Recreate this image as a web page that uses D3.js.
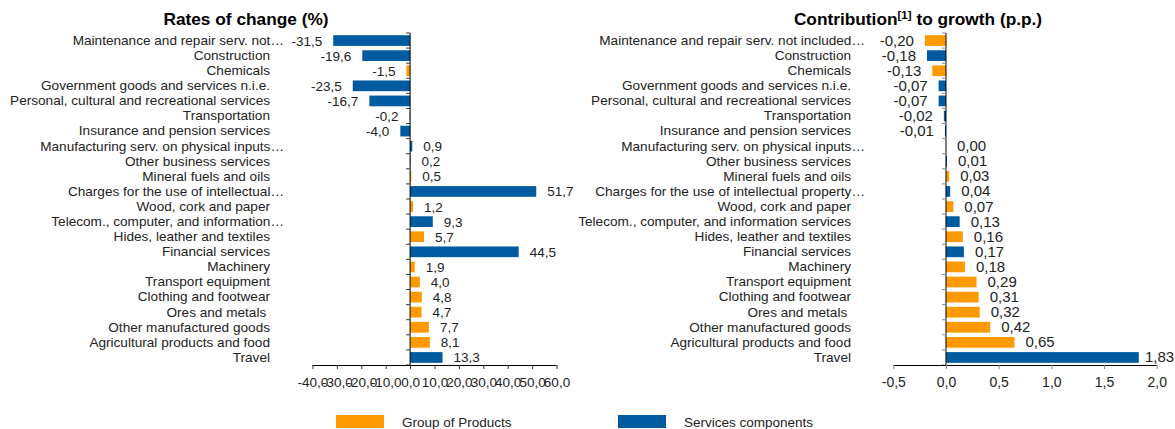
<!DOCTYPE html>
<html>
<head>
<meta charset="utf-8">
<script src="https://cdn.jsdelivr.net/npm/d3@7"></script>
<style>
  body { margin: 0; background: #fff; }
  svg { display: block; font-family: "Liberation Sans", Arial, sans-serif; }
  text { white-space: pre; }
</style>
</head>
<body>
<div id="chart"></div>
<script>
// rates of change (%), left panel
const rateLabels = [
  "Maintenance and repair serv. not…", "Construction", "Chemicals",
  "Government goods and services n.i.e.", "Personal, cultural and recreational services",
  "Transportation", "Insurance and pension services", "Manufacturing serv. on physical inputs…",
  "Other business services", "Mineral fuels and oils", "Charges for the use of intellectual…",
  "Wood, cork and paper", "Telecom., computer, and information…", "Hides, leather and textiles",
  "Financial services", "Machinery", "Transport equipment", "Clothing and footwear",
  "Ores and metals ", "Other manufactured goods", "Agricultural products and food", "Travel"
];
const rateValues = [-31.5, -19.6, -1.5, -23.5, -16.7, -0.2, -4.0, 0.9, 0.2, 0.5, 51.7,
  1.2, 9.3, 5.7, 44.5, 1.9, 4.0, 4.8, 4.7, 7.7, 8.1, 13.3];
const rateTypes = ["S", "S", "P", "S", "S", "S", "S", "S", "S", "P", "S",
  "P", "S", "P", "S", "P", "P", "P", "P", "P", "P", "S"];
const rateTicks = [-40, -30, -20, -10, 0, 10, 20, 30, 40, 50, 60];

// contribution to growth (p.p.), right panel
const contribLabels = [
  "Maintenance and repair serv. not included…", "Construction", "Chemicals",
  "Government goods and services n.i.e.", "Personal, cultural and recreational services",
  "Transportation", "Insurance and pension services", "Manufacturing serv. on physical inputs…",
  "Other business services", "Mineral fuels and oils", "Charges for the use of intellectual property…",
  "Wood, cork and paper", "Telecom., computer, and information services", "Hides, leather and textiles",
  "Financial services", "Machinery", "Transport equipment", "Clothing and footwear",
  "Ores and metals ", "Other manufactured goods", "Agricultural products and food", "Travel"
];
const contribValues = [-0.20, -0.18, -0.13, -0.07, -0.07, -0.02, -0.01, 0.00, 0.01, 0.03, 0.04,
  0.07, 0.13, 0.16, 0.17, 0.18, 0.29, 0.31, 0.32, 0.42, 0.65, 1.83];
const contribTypes = ["P", "S", "P", "S", "S", "S", "S", "S", "S", "P", "S",
  "P", "S", "P", "S", "P", "P", "P", "P", "P", "P", "S"];
const contribTicks = [-0.5, 0, 0.5, 1.0, 1.5, 2.0];

const legendLabels = ["Group of Products", "Services components"];
const colors = { P: "#FF9900", S: "#005BA1" };

const width = 1175, height = 429;
const svg = d3.select("#chart").append("svg")
  .attr("width", width)
  .attr("height", height);

function drawPanel({ labels, values, types, ticks, xRange, labelX, decimals,
                     tickFont, tickSize, valueFont, valueSize, tickColor, title }) {
  const top = 33, bottom = 365;
  const idx = d3.range(labels.length);
  const fmt = v => d3.format(`.${decimals}f`)(v).replace("−", "-").replace(".", ",");

  const x = d3.scaleLinear()
    .domain([ticks[0], ticks[ticks.length - 1]])
    .range(xRange);
  const y = d3.scaleBand()
    .domain(idx)
    .range([top, bottom])
    .paddingInner(0.29)
    .paddingOuter(0.145);
  const step = y.step();

  const g = svg.append("g");

  // bars
  g.selectAll(".bar")
    .data(idx)
    .enter()
    .append("rect")
    .attr("x", i => x(Math.min(0, values[i])))
    .attr("y", i => y(i))
    .attr("width", i => Math.abs(x(values[i]) - x(0)))
    .attr("height", y.bandwidth())
    .attr("fill", i => colors[types[i]]);

  // vertical zero line with category ticks
  g.append("line")
    .attr("x1", x(0)).attr("x2", x(0))
    .attr("y1", top).attr("y2", bottom)
    .attr("stroke", "#000");
  g.selectAll(".cattick")
    .data(d3.range(labels.length + 1))
    .enter()
    .append("line")
    .attr("x1", x(0) - 4).attr("x2", x(0))
    .attr("y1", k => top + k * step).attr("y2", k => top + k * step)
    .attr("stroke", tickColor);

  // x axis
  const xAxis = g.append("g")
    .attr("transform", `translate(0,${bottom})`)
    .call(d3.axisBottom(x).tickValues(ticks).tickSize(4).tickPadding(8)
      .tickFormat(v => d3.format(".1f")(v).replace("−", "-").replace(".", ",")));
  xAxis.select(".domain").attr("stroke", "#000").attr("d", `M${xRange[0]},0.5H${xRange[1]}`);
  xAxis.selectAll(".tick line").attr("stroke", tickColor);
  xAxis.selectAll(".tick text")
    .attr("fill", "#222")
    .attr("font-size", tickSize)
    .style("font-family", tickFont);

  // category labels
  const yAxis = g.append("g")
    .attr("transform", `translate(${labelX},0)`)
    .call(d3.axisLeft(y).tickSize(0).tickPadding(0).tickFormat(i => labels[i]));
  yAxis.select(".domain").remove();
  yAxis.selectAll(".tick text")
    .attr("fill", "#222")
    .attr("font-size", 13.6)
    .attr("x", i => labels[i].endsWith("…") ? 14 : 0);

  // value labels
  g.selectAll(".val")
    .data(idx)
    .enter()
    .append("text")
    .attr("x", i => values[i] < 0 ? x(values[i]) - 11 : Math.min(x(values[i]) + 11, width - 30))
    .attr("y", i => y(i) + y.bandwidth() / 2 + 5)
    .attr("text-anchor", i => values[i] < 0 ? "end" : "start")
    .attr("font-size", valueSize)
    .attr("fill", "#222")
    .style("font-family", valueFont)
    .text(i => fmt(values[i]));

  // title
  const t = svg.append("text")
    .attr("x", title.x)
    .attr("y", 25)
    .attr("text-anchor", "middle")
    .attr("font-size", 17.3)
    .attr("font-weight", "bold")
    .attr("fill", "#000");
  title.parts.forEach(p => {
    const s = t.append("tspan").text(p.text);
    if (p.sup) s.attr("font-size", 11.5).attr("dy", -6);
    if (p.after) s.attr("dy", 6);
  });
}

drawPanel({
  labels: rateLabels, values: rateValues, types: rateTypes, ticks: rateTicks,
  xRange: [312.5, 556.5], labelX: 270, decimals: 1,
  tickFont: "'Liberation Sans', Arial, sans-serif", tickSize: 13.5,
  valueFont: "'Liberation Sans', Arial, sans-serif", valueSize: 13.5,
  tickColor: "#333",
  title: { x: 246, parts: [{ text: "Rates of change (%)" }] }
});

drawPanel({
  labels: contribLabels, values: contribValues, types: contribTypes, ticks: contribTicks,
  xRange: [893.3, 1156.7], labelX: 851, decimals: 2,
  tickFont: "'Liberation Sans Narrow', 'Arial Narrow', sans-serif", tickSize: 14,
  valueFont: "'Liberation Sans Narrow', 'Arial Narrow', sans-serif", valueSize: 15,
  tickColor: "#888",
  title: { x: 918, parts: [{ text: "Contribution" }, { text: "[1]", sup: true }, { text: " to growth (p.p.)", after: true }] }
});

// legend
const legend = svg.append("g").attr("class", "legend");
const legendItems = legend.selectAll("g")
  .data(legendLabels)
  .enter()
  .append("g")
  .attr("transform", (d, i) => `translate(${i === 0 ? 336 : 618},415)`);
legendItems.append("rect")
  .attr("width", 48)
  .attr("height", 13)
  .attr("fill", (d, i) => i === 0 ? colors.P : colors.S);
legendItems.append("text")
  .attr("x", 66)
  .attr("y", 12)
  .attr("font-size", 13.5)
  .attr("fill", "#222")
  .text(d => d);
</script>
</body>
</html>
